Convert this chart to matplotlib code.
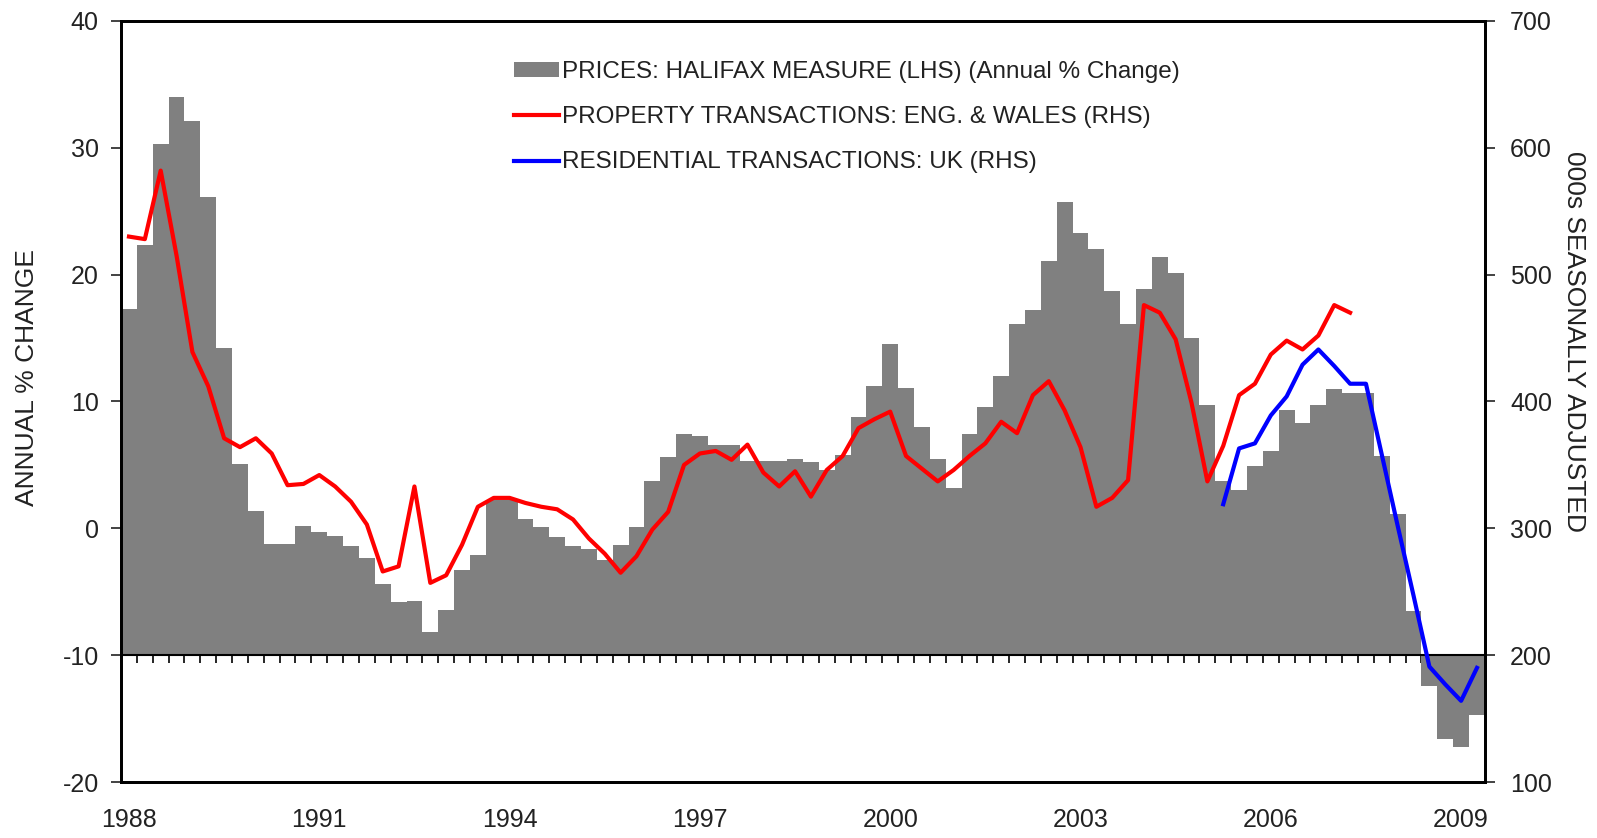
import numpy as np
import matplotlib
matplotlib.use("Agg")
import matplotlib.pyplot as plt

plt.rcParams['font.family'] = ['Liberation Sans', 'DejaVu Sans']
plt.rcParams['axes.unicode_minus'] = False

# quarterly data, 1988 Q1 .. 2009 Q2
years = ['1988', '1991', '1994', '1997', '2000', '2003', '2006', '2009']

halifax = [17.3, 22.3, 30.3, 34.0, 32.1, 26.1, 14.2, 5.1, 1.4, -1.2,
           -1.2, 0.2, -0.3, -0.6, -1.4, -2.3, -4.4, -5.8, -5.7, -8.2,
           -6.4, -3.3, -2.1, 2.2, 2.2, 0.7, 0.1, -0.7, -1.4, -1.6,
           -2.5, -1.3, 0.1, 3.7, 5.6, 7.4, 7.3, 6.6, 6.6, 5.3,
           5.3, 5.3, 5.5, 5.2, 4.6, 5.8, 8.8, 11.2, 14.5, 11.1,
           8.0, 5.5, 3.2, 7.4, 9.6, 12.0, 16.1, 17.2, 21.1, 25.7,
           23.3, 22.0, 18.7, 16.1, 18.9, 21.4, 20.1, 15.0, 9.7, 3.7,
           3.0, 4.9, 6.1, 9.3, 8.3, 9.7, 11.0, 10.7, 10.7, 5.7,
           1.1, -6.5, -12.4, -16.6, -17.2, -14.7]

# property transactions England & Wales, 1988 Q1 .. 2007 Q2
property_tx = [530, 528, 582, 515, 439, 412, 371, 364, 371, 359,
               334, 335, 342, 333, 321, 303, 266, 270, 333, 257,
               263, 287, 317, 324, 324, 320, 317, 315, 307, 292,
               280, 265, 278, 299, 313, 350, 359, 361, 354, 366,
               344, 333, 345, 325, 346, 357, 379, 386, 392, 357,
               347, 337, 346, 357, 367, 384, 375, 405, 416, 393,
               364, 317, 324, 338, 476, 470, 449, 399, 337, 365,
               405, 414, 437, 448, 441, 452, 476, 470]

# residential transactions UK, 2005 Q2 .. 2009 Q2
residential_start = 69
residential_tx = [319, 363, 367, 389, 404, 429, 441, 428, 414, 414,
                  358, 302, 247, 191, 177, 164, 190]

n = len(halifax)
idx = np.arange(n)
txt = '#222222'

fig = plt.figure(figsize=(15.97, 8.38), dpi=100)
ax = fig.add_axes([0.0758, 0.0668, 0.854, 0.9082])
ax2 = ax.twinx()

base = -10
ax.bar(idx, np.array(halifax) - base, bottom=base, width=1.0,
       color='#808080', linewidth=0, label='PRICES: HALIFAX MEASURE (LHS) (Annual % Change)')
ax.axhline(base, color='black', linewidth=1.5)

ax2.plot(np.arange(len(property_tx)), property_tx, color='#ff0000', linewidth=3,
         label='PROPERTY TRANSACTIONS: ENG. & WALES (RHS)')
ax2.plot(np.arange(len(residential_tx)) + residential_start, residential_tx,
         color='#0000ff', linewidth=3, label='RESIDENTIAL TRANSACTIONS: UK (RHS)')

ax.set_xlim(-0.5, n - 0.5)
ax.set_ylim(-20, 40)
ax2.set_ylim(100, 700)
ax.set_yticks(np.arange(-20, 41, 10))
ax2.set_yticks(np.arange(100, 701, 100))

ax.set_xticks(np.arange(0, n, 12))
ax.set_xticklabels(years)
ax.tick_params(axis='x', length=0, pad=19, labelsize=18, colors=txt)
ax.tick_params(axis='y', length=7, width=1.2, pad=9, labelsize=18, colors=txt)
ax2.tick_params(axis='y', length=7, width=1.2, pad=11, labelsize=18, colors=txt)

# small quarter ticks hanging under the -10 line
sec = ax.secondary_xaxis(10 / 60)
sec.set_xticks(np.arange(n + 1) - 0.5)
sec.tick_params(axis='x', length=6, width=1.2, direction='out', labelbottom=False)
sec.spines['bottom'].set_visible(False)

for a in (ax, ax2):
    for s in a.spines.values():
        s.set_linewidth(2)
        s.set_color('black')

ax.set_ylabel('ANNUAL % CHANGE', fontsize=19, color=txt)
ax.yaxis.set_label_coords(-0.060, 0.532)
ax2.set_ylabel('000s SEASONALLY ADJUSTED', fontsize=19, color=txt, rotation=270,
               va='center')
ax2.yaxis.set_label_coords(1.065, 0.579)

h1, l1 = ax.get_legend_handles_labels()
h2, l2 = ax2.get_legend_handles_labels()
leg = ax.legend(h1 + h2, l1 + l2, loc='upper left', bbox_to_anchor=(0.288, 0.947),
                frameon=False, fontsize=17.5, handlelength=1.85, handletextpad=0.12,
                labelspacing=0.95, borderpad=0, borderaxespad=0, handleheight=0.55)
for t in leg.get_texts():
    t.set_color(txt)
ax.set_zorder(ax2.get_zorder() - 1)
ax2.patch.set_visible(False)
# keep the legend above the lines
leg.remove()
ax2.add_artist(leg)

fig.savefig('out.png', dpi=100)
